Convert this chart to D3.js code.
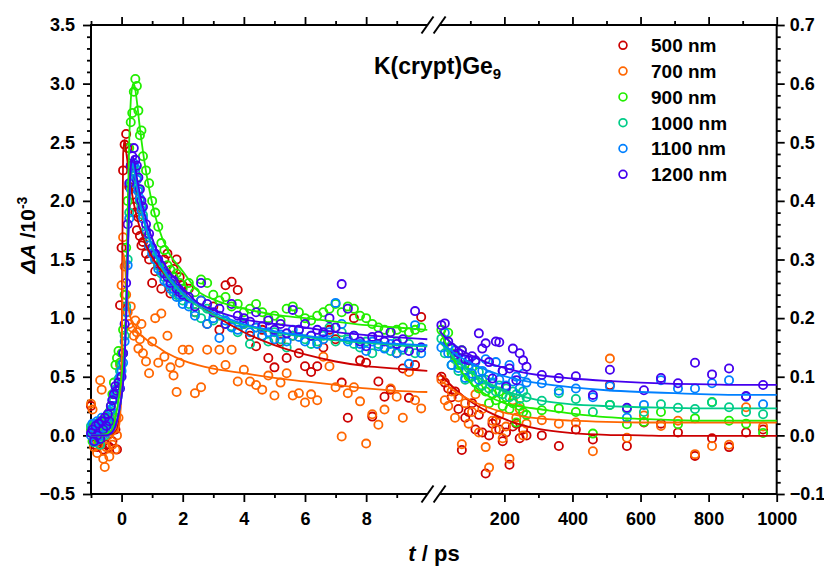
<!DOCTYPE html>
<html><head><meta charset="utf-8">
<script src="https://cdn.jsdelivr.net/npm/d3@7"></script>
<style>
body{margin:0;background:#fff;}
text{font-family:"Liberation Sans",Arial,sans-serif;font-weight:bold;fill:#000;}
</style></head>
<body><svg id="c" width="824" height="567"></svg>
<script>
// ---------- data ----------
const series = ["500 nm","700 nm","900 nm","1000 nm","1100 nm","1200 nm"];
const colors = ["#CC0000","#FF6600","#22EE00","#00CC88","#0080FF","#4400EE"];

// left (early-time) segment, t in ps, values on left axis (10^-3)
const tLeft = [-1.0,-0.95,-0.9,-0.85,-0.8,-0.75,-0.7,-0.65,-0.6,-0.55,-0.5,-0.45,-0.4,-0.35,-0.3,-0.25,-0.2,-0.15,-0.1,-0.05,
  0,0.05,0.1,0.15,0.2,0.25,0.3,0.35,0.4,0.45,0.5,0.55,0.6,0.65,0.7,
  0.8,0.9,1.0,1.1,1.2,1.3,1.4,1.5,1.6,1.7,1.8,1.9,2.0,
  2.2,2.4,2.6,2.8,3.0,3.2,3.4,3.6,3.8,4.0,4.2,4.4,4.6,4.8,5.0,5.2,5.4,5.6,5.8,6.0,6.2,6.4,6.6,6.8,7.0,7.2,7.4,7.6,7.8,8.0,8.2,8.4,8.6,8.8,9.0,9.2,9.4,9.6,9.8];
const v500L = [0.25,0.05,-0.08,0.02,-0.1,0.0,-0.05,0.08,-0.12,0.03,-0.08,0.05,-0.1,0.1,-0.05,0.15,0.05,-0.12,0.4,1.11,
  1.6,2.26,2.48,2.57,2.45,2.12,2.3,2.05,1.95,1.9,1.75,1.86,1.7,1.62,1.65,
  1.55,1.5,1.3,1.4,1.45,1.25,1.5,1.55,1.21,1.42,1.5,1.35,1.28,
  1.25,1.05,1.15,0.95,1.1,0.9,1.28,1.31,1.24,0.95,0.85,0.76,0.9,0.66,0.58,0.8,0.66,0.85,0.7,0.59,0.54,0.59,0.75,0.9,0.82,0.45,0.15,1.0,0.64,0.62,0.16,0.46,0.33,0.39,0.7,0.57,0.32,0.6,1.01];
const v700L = [0.27,0.22,-0.1,0.05,-0.15,0.1,0.47,0.39,-0.2,-0.27,-0.1,0.0,-0.18,0.05,-0.08,0.1,-0.12,0.0,0.15,0.6,
  1.28,1.69,1.44,1.2,1.05,0.95,1.1,0.92,0.85,0.98,0.88,0.74,0.82,0.95,0.7,
  0.63,0.53,0.8,1.0,0.62,1.04,0.67,0.85,0.58,0.51,0.37,0.62,0.73,
  0.73,0.36,0.41,0.73,0.56,0.73,0.6,0.73,0.46,0.56,0.46,0.43,0.39,0.51,0.34,0.45,0.53,0.34,0.36,0.28,0.35,0.3,0.67,0.59,0.41,-0.01,0.36,0.41,0.29,-0.07,0.18,0.09,0.22,0.4,0.33,0.15,0.54,0.3,0.23];
const v900L = [0.05,-0.05,0.1,0.0,0.08,-0.04,0.12,0.02,0.1,0.05,0.15,0.1,0.2,0.25,0.35,0.45,0.6,0.66,0.72,0.62,
  0.7,0.9,1.2,1.6,2.0,2.45,2.67,2.75,2.93,3.04,2.98,2.77,2.56,2.6,2.38,
  2.26,2.15,2.0,1.9,1.78,1.64,1.58,1.45,1.41,1.35,1.38,1.3,1.25,
  1.3,1.22,1.33,1.3,1.2,1.15,1.18,1.1,1.12,1.05,1.08,1.12,1.05,1.0,1.02,0.98,1.08,1.1,1.05,1.0,0.98,1.02,1.05,1.08,1.12,1.05,1.1,1.08,1.02,1.0,0.95,0.92,0.9,0.88,0.9,0.92,0.88,0.9,0.92];
const v1000L = [0.08,0.02,-0.06,0.1,0.0,0.05,-0.08,0.06,0.12,0.0,0.1,0.05,0.15,0.2,0.18,0.3,0.35,0.4,0.48,0.55,
  0.6,0.7,0.85,1.1,1.5,1.9,2.15,2.28,2.3,2.25,2.2,2.1,2.0,1.95,1.88,
  1.75,1.65,1.58,1.5,1.45,1.38,1.35,1.3,1.28,1.22,1.2,1.18,1.15,
  1.12,1.05,1.0,1.08,0.98,1.02,0.95,0.93,0.88,0.95,0.78,0.92,0.85,0.8,0.88,0.82,0.75,0.85,0.9,0.82,0.78,0.8,0.85,0.92,0.8,0.88,0.82,0.78,0.75,0.8,0.7,0.78,0.75,0.72,0.8,0.73,0.78,0.7,0.75];
const v1100L = [0.0,0.1,0.02,-0.05,0.12,0.05,0.0,0.15,0.05,0.12,0.02,0.18,0.1,0.22,0.3,0.25,0.38,0.35,0.42,0.5,
  0.55,0.62,0.8,1.05,1.45,1.85,2.1,2.25,2.32,2.28,2.18,2.08,2.02,1.92,1.85,
  1.72,1.62,1.55,1.5,1.42,1.4,1.32,1.3,1.25,1.25,1.18,1.2,1.12,
  1.1,1.02,1.15,0.95,1.0,0.83,0.98,0.92,0.9,0.96,0.88,0.92,0.85,0.88,0.82,0.86,0.8,0.9,0.84,0.8,0.85,0.78,0.82,0.88,1.13,0.95,0.8,0.85,0.78,0.72,0.8,0.76,0.74,0.78,0.7,0.75,0.61,0.94,0.7];
const v1200L = [0.02,0.05,-0.05,0.08,0.0,0.1,-0.03,0.12,0.05,0.15,0.08,0.18,0.12,0.25,0.3,0.35,0.42,0.38,0.45,0.4,
  0.5,0.7,0.95,1.3,1.8,2.15,2.3,2.38,2.45,2.35,2.3,2.2,2.1,2.0,1.95,
  1.8,1.72,1.6,1.55,1.5,1.45,1.38,1.35,1.3,1.32,1.25,1.22,1.2,
  1.18,1.1,1.3,1.12,1.05,1.08,0.95,1.12,1.02,1.0,0.97,1.05,0.93,0.98,0.9,0.95,0.87,1.07,0.9,0.95,0.85,0.9,0.88,1.0,0.92,1.29,1.08,0.85,0.8,0.76,0.84,0.85,0.8,0.88,0.78,0.82,0.72,1.06,0.75];

// right (late-time) segment, t in ps, values on right axis
const tRight = [15,25,35,45,55,65,75,85,95,105,115,125,135,145,155,165,175,185,195,205,215,225,235,245,255,265,
  310,360,410,460,510,560,610,660,710,760,810,860,910,960];
const v500R = [0.1,0.09,0.08,0.065,0.075,0.045,-0.025,0.03,0.04,0.055,0.01,0.035,0.005,-0.065,0.0,0.02,0.025,0.01,-0.01,0.005,-0.05,0.015,0.02,-0.005,0.01,0.0,
  0.0,-0.018,0.01,-0.007,0.086,-0.018,0.022,0.02,0.005,-0.035,-0.005,-0.02,0.005,0.01];
const v700R = [0.095,0.06,0.05,0.075,0.03,0.065,-0.015,0.055,0.02,0.04,0.07,0.005,0.045,-0.02,-0.055,0.025,0.01,0.035,-0.005,0.015,-0.04,0.06,0.03,0.045,0.0,0.02,
  0.026,0.02,0.022,-0.027,0.131,-0.004,0.034,0.016,0.025,-0.032,-0.018,-0.016,0.048,0.015];
const v900R = [0.18,0.16,0.175,0.14,0.135,0.12,0.145,0.11,0.1,0.115,0.09,0.08,0.095,0.075,0.055,0.07,0.06,0.075,0.05,0.065,0.045,0.055,0.022,0.05,0.04,0.035,
  0.043,0.046,0.04,0.003,0.052,0.019,0.023,0.04,0.019,0.029,0.057,0.025,0.02,0.004];
const v1000R = [0.165,0.14,0.15,0.12,0.13,0.11,0.12,0.095,0.115,0.1,0.09,0.108,0.085,0.095,0.08,0.09,0.075,0.085,0.07,0.08,0.065,0.075,0.07,0.062,0.075,0.065,
  0.059,0.072,0.062,0.04,0.052,0.045,0.04,0.053,0.047,0.045,0.056,0.048,0.04,0.036];
const v1100R = [0.15,0.175,0.14,0.12,0.145,0.115,0.13,0.098,0.12,0.105,0.125,0.095,0.11,0.13,0.102,0.088,0.125,0.095,0.11,0.085,0.12,0.092,0.1,0.08,0.105,0.09,
  0.089,0.076,0.08,0.065,0.084,0.03,0.052,0.094,0.08,0.08,0.089,0.094,0.066,0.053];
const v1200R = [0.188,0.191,0.16,0.15,0.137,0.14,0.145,0.13,0.128,0.135,0.128,0.174,0.148,0.157,0.125,0.097,0.16,0.159,0.11,0.083,0.114,0.148,0.094,0.14,0.128,0.117,
  0.103,0.098,0.101,0.069,0.112,0.047,0.077,0.098,0.089,0.124,0.104,0.114,0.067,0.086];

// fit curves
const tFitL = [-1,-0.5,-0.3,-0.2,-0.1,-0.05,0,0.05,0.1,0.15,0.2,0.25,0.3,0.35,0.4,0.45,0.5,0.6,0.7,0.8,1.0,1.2,1.5,2,2.5,3,4,5,6,7,8,9,10];
const f500L = [0,0,0.01,0.03,0.1,0.2,0.6,2.4,2.52,2.42,2.32,2.22,2.13,2.05,1.98,1.92,1.86,1.77,1.69,1.62,1.52,1.44,1.35,1.22,1.12,1.03,0.88,0.77,0.69,0.63,0.59,0.57,0.55];
const f700L = [0,0,0,0.02,0.06,0.15,0.5,1.55,1.5,1.3,1.15,1.05,1.0,0.96,0.93,0.91,0.89,0.86,0.84,0.82,0.78,0.75,0.7,0.64,0.6,0.57,0.53,0.49,0.46,0.43,0.4,0.38,0.37];
const f900L = [0,0.01,0.05,0.15,0.3,0.4,0.5,0.62,0.8,1.2,1.9,2.5,2.85,2.97,3.0,2.95,2.85,2.62,2.42,2.25,1.98,1.78,1.58,1.4,1.23,1.16,1.08,1.03,1.0,0.97,0.94,0.92,0.9];
const f1000L = [0,0,0.03,0.08,0.18,0.25,0.33,0.45,0.65,1.0,1.5,1.95,2.2,2.3,2.28,2.2,2.12,1.98,1.86,1.76,1.6,1.48,1.35,1.2,1.1,1.03,0.94,0.88,0.84,0.81,0.79,0.77,0.76];
const f1100L = [0,0,0.03,0.08,0.18,0.25,0.33,0.45,0.63,0.98,1.48,1.95,2.22,2.32,2.3,2.22,2.14,2.0,1.88,1.78,1.62,1.5,1.37,1.22,1.12,1.05,0.95,0.89,0.85,0.82,0.8,0.78,0.77];
const f1200L = [0,0,0.03,0.08,0.18,0.25,0.33,0.45,0.65,1.02,1.55,2.0,2.28,2.38,2.36,2.28,2.2,2.06,1.94,1.84,1.68,1.55,1.42,1.26,1.13,1.07,0.99,0.95,0.92,0.88,0.855,0.835,0.82];
const tFitR = [10,25,50,75,100,150,200,250,300,400,500,600,700,800,900,1000];
const f500R = [0.105,0.096,0.082,0.069,0.058,0.041,0.028,0.018,0.011,0.004,0.001,0,-0.001,-0.001,-0.001,-0.001];
const f700R = [0.095,0.088,0.077,0.068,0.06,0.048,0.039,0.033,0.029,0.025,0.023,0.022,0.022,0.022,0.022,0.022];
const f900R = [0.18,0.16,0.13,0.108,0.09,0.068,0.055,0.049,0.045,0.037,0.031,0.028,0.026,0.025,0.025,0.025];
const f1000R = [0.16,0.15,0.134,0.12,0.108,0.09,0.077,0.067,0.06,0.053,0.05,0.048,0.047,0.046,0.046,0.046];
const f1100R = [0.16,0.153,0.142,0.132,0.124,0.111,0.101,0.094,0.089,0.082,0.077,0.074,0.072,0.07,0.069,0.069];
const f1200R = [0.178,0.168,0.155,0.145,0.137,0.124,0.115,0.108,0.103,0.097,0.093,0.09,0.088,0.087,0.086,0.086];

const leftTicksMajor = [0,2,4,6,8], leftTicksMinor = [-1,1,3,5,7,9];
const rightTicksMajor = [200,400,600,800,1000], rightTicksMinor = [100,300,500,700,900];
const yLeftMajor = [-0.5,0.0,0.5,1.0,1.5,2.0,2.5,3.0,3.5];
const yRightMajor = [-0.1,0.0,0.1,0.2,0.3,0.4,0.5,0.6,0.7];

// ---------- drawing ----------
const valsL = [v500L,v700L,v900L,v1000L,v1100L,v1200L];
const valsR = [v500R,v700R,v900R,v1000R,v1100R,v1200R];
const fitsL = [f500L,f700L,f900L,f1000L,f1100L,f1200L];
const fitsR = [f500R,f700R,f900R,f1000R,f1100R,f1200R];

const svg = d3.select("#c");
const pTop = 25, pBottom = 494, pLeft = 91, pRight = 776.7;
const xL = d3.scaleLinear().domain([-1,10]).range([pLeft,427.3]);
const xR = d3.scaleLinear().domain([0,1000]).range([436.3,pRight]);
const yL = d3.scaleLinear().domain([-0.5,3.5]).range([pBottom,pTop]);
const yR = d3.scaleLinear().domain([-0.1,0.7]).range([pBottom,pTop]);

const fs = 18;
function styleAxis(g){
  g.select(".domain").remove();
  g.selectAll(".tick line").attr("stroke","#000").attr("stroke-width",1.8);
  g.selectAll("text").attr("font-size",fs).attr("font-family","Liberation Sans, Arial, sans-serif").attr("font-weight","bold").attr("fill","#000");
}
const fmt = d3.format(".1f");
const fmtInt = d3.format("d");
const yLeftMinor = d3.range(-5,36).map(d=>d/10).filter(d=>Math.abs(d*2-Math.round(d*2))>1e-6);
const yRightMinor = d3.range(-5,36).map(d=>d/50).filter(d=>Math.abs(d*10-Math.round(d*10))>1e-6);
// left y axis
svg.append("g").attr("transform",`translate(${pLeft},0)`).call(d3.axisLeft(yL).tickValues(yLeftMajor).tickSize(8).tickPadding(8).tickFormat(fmt)).call(styleAxis);
svg.append("g").attr("transform",`translate(${pLeft},0)`).call(d3.axisLeft(yL).tickValues(yLeftMinor).tickSize(4).tickFormat("")).call(styleAxis);
// right y axis
svg.append("g").attr("transform",`translate(${pRight},0)`).call(d3.axisRight(yR).tickValues(yRightMajor).tickSize(8).tickPadding(5).tickFormat(fmt)).call(styleAxis);
svg.append("g").attr("transform",`translate(${pRight},0)`).call(d3.axisRight(yR).tickValues(yRightMinor).tickSize(4).tickFormat("")).call(styleAxis);
// bottom axes
svg.append("g").attr("transform",`translate(0,${pBottom})`).call(d3.axisBottom(xL).tickValues(leftTicksMajor).tickSize(8).tickPadding(10).tickFormat(fmtInt)).call(styleAxis);
svg.append("g").attr("transform",`translate(0,${pBottom})`).call(d3.axisBottom(xL).tickValues(leftTicksMinor).tickSize(4).tickFormat("")).call(styleAxis);
svg.append("g").attr("transform",`translate(0,${pBottom})`).call(d3.axisBottom(xR).tickValues(rightTicksMajor).tickSize(8).tickPadding(10).tickFormat(fmtInt)).call(styleAxis);
svg.append("g").attr("transform",`translate(0,${pBottom})`).call(d3.axisBottom(xR).tickValues(rightTicksMinor).tickSize(4).tickFormat("")).call(styleAxis);
// top axes
svg.append("g").attr("transform",`translate(0,${pTop})`).call(d3.axisTop(xL).tickValues(leftTicksMajor).tickSize(8).tickFormat("")).call(styleAxis);
svg.append("g").attr("transform",`translate(0,${pTop})`).call(d3.axisTop(xL).tickValues(leftTicksMinor).tickSize(4).tickFormat("")).call(styleAxis);
svg.append("g").attr("transform",`translate(0,${pTop})`).call(d3.axisTop(xR).tickValues(rightTicksMajor).tickSize(8).tickFormat("")).call(styleAxis);
svg.append("g").attr("transform",`translate(0,${pTop})`).call(d3.axisTop(xR).tickValues(rightTicksMinor).tickSize(4).tickFormat("")).call(styleAxis);

// frame lines with break
const brkA = 427.5, brkB = 439.6;
const frame = svg.append("g").attr("stroke","#000").attr("stroke-width",2).attr("fill","none");
frame.append("line").attr("x1",pLeft).attr("x2",pLeft).attr("y1",pTop-1).attr("y2",pBottom+1);
frame.append("line").attr("x1",pRight).attr("x2",pRight).attr("y1",pTop-1).attr("y2",pBottom+1);
[pTop,pBottom].forEach(y=>{
  frame.append("line").attr("x1",pLeft).attr("x2",brkA).attr("y1",y).attr("y2",y);
  frame.append("line").attr("x1",brkB).attr("x2",pRight).attr("y1",y).attr("y2",y);
  [brkA,brkB].forEach(cx=>{
    frame.append("line").attr("x1",cx-6).attr("y1",y+8.5).attr("x2",cx+6).attr("y2",y-8.5);
  });
});

// scatter
const plot = svg.append("g");
series.forEach((s,i)=>{
  const g = plot.append("g").attr("fill","none").attr("stroke",colors[i]).attr("stroke-width",1.8);
  g.selectAll("circle.l").data(tLeft.map((t,j)=>[t,valsL[i][j]])).join("circle")
    .attr("class","l").attr("cx",d=>xL(d[0])).attr("cy",d=>yL(d[1])).attr("r",4.1);
  g.selectAll("circle.r").data(tRight.map((t,j)=>[t,valsR[i][j]])).join("circle")
    .attr("class","r").attr("cx",d=>xR(d[0])).attr("cy",d=>yR(d[1])).attr("r",4.1);
});
// fits
const lineL = d3.line().x(d=>xL(d[0])).y(d=>yL(d[1])).curve(d3.curveMonotoneX);
const lineR = d3.line().x(d=>xR(d[0])).y(d=>yR(d[1])).curve(d3.curveMonotoneX);
series.forEach((s,i)=>{
  plot.append("path").attr("d",lineL(tFitL.map((t,j)=>[t,fitsL[i][j]]))).attr("fill","none").attr("stroke",colors[i]).attr("stroke-width",1.8);
  plot.append("path").attr("d",lineR(tFitR.map((t,j)=>[t,fitsR[i][j]]))).attr("fill","none").attr("stroke",colors[i]).attr("stroke-width",1.8);
});

// legend
const lg = svg.append("g");
series.forEach((s,i)=>{
  const y = 45.3 + i*25.8;
  lg.append("circle").attr("cx",623).attr("cy",y).attr("r",3.9).attr("fill","none").attr("stroke",colors[i]).attr("stroke-width",1.7);
  lg.append("text").attr("x",651).attr("y",y+6.8).attr("font-size",19).text(s);
});

// title
const tt = svg.append("text").attr("x",374).attr("y",73.5).attr("font-size",23);
tt.append("tspan").text("K(crypt)Ge");
tt.append("tspan").attr("dy",5).attr("font-size",15).text("9");

// axis labels
const xl = svg.append("text").attr("x",434).attr("y",561).attr("text-anchor","middle").attr("font-size",22);
xl.append("tspan").attr("font-style","italic").text("t");
xl.append("tspan").text(" / ps");
const yl = svg.append("text").attr("transform","translate(35,235) rotate(-90)").attr("text-anchor","middle").attr("font-size",21);
yl.append("tspan").attr("font-style","italic").text("ΔA");
yl.append("tspan").text(" /10");
yl.append("tspan").attr("dy",-8).attr("font-size",14).text("-3");
</script></body></html>
